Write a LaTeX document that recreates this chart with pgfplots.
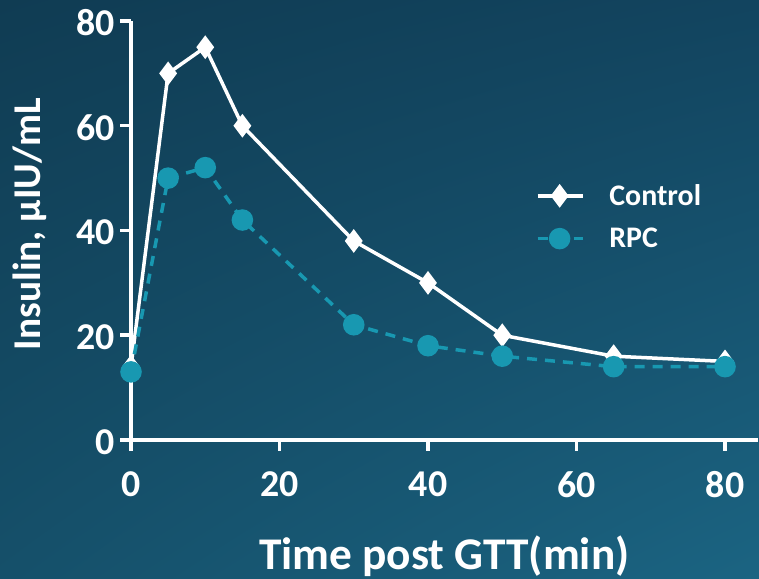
\documentclass[border=0pt]{standalone}
\usepackage{fontspec}
\setmainfont{Carlito}
\usepackage{pgfplots}
\pgfplotsset{compat=1.18}
\usetikzlibrary{shadings}
\definecolor{bgTL}{RGB}{16,60,83}
\definecolor{bgTR}{RGB}{18,68,95}
\definecolor{bgBL}{RGB}{21,80,106}
\definecolor{bgBR}{RGB}{27,100,130}
\definecolor{rpc}{RGB}{24,152,177}
\begin{document}
\begin{tikzpicture}[x=1bp,y=1bp]
\useasboundingbox (0,0) rectangle (759,579);
\shade[upper left=bgTL, upper right=bgTR, lower left=bgBL, lower right=bgBR] (0,0) rectangle (759,579);
\begin{axis}[
  at={(131bp,139bp)}, anchor=origin,
  scale only axis, width=626.7bp, height=419bp,
  xmin=0, xmax=84.4, ymin=0, ymax=80,
  axis x line*=bottom, axis y line*=left,
  axis line style={white, line width=3.5bp, -},
  xtick={0,20,40,60,80}, ytick={0,20,40,60,80},
  tick style={white, line width=3.5bp},
  xtick align=outside, ytick align=outside,
  major tick length=11bp,
  /pgf/number format/assume math mode=true,
  ticklabel style={font=\fontsize{38}{38}\selectfont\bfseries, text=white},
  xticklabel style={yshift=-17bp},
  yticklabel style={xshift=-2bp, yshift=-2bp},
  xlabel={Time post GTT(min)},
  ylabel={Insulin, μIU/mL},
  every axis x label/.style={at={(axis description cs:0.5,0)}, anchor=north, yshift=-92bp, font=\fontsize{45.5}{45.5}\selectfont\bfseries, text=white},
  every axis y label/.style={at={(axis description cs:0,0.515)}, xshift=-101bp, rotate=90, anchor=center, font=\fontsize{39.5}{39.5}\selectfont\bfseries, text=white},
  legend style={at={(axis cs:54.5,42.6)}, anchor=west, draw=none, fill=none, font=\fontsize{30}{30}\selectfont\bfseries, text=white, row sep=17bp, inner sep=0pt, nodes={inner sep=2bp}},
  legend cell align=left,
  legend image code/.code={\draw[mark repeat=2,mark phase=2] plot coordinates {(0bp,0bp)(22bp,0bp)(45bp,0bp)};},
  clip=false,
]
\addplot[white, line width=3.5bp, mark=diamond*, mark size=9bp, mark options={solid, fill=white}]
coordinates {(0,14)(5,70)(10,75)(15,60)(30,38)(40,30)(50,20)(65,16)(80,15)};
\addlegendentry{\hspace{23bp}Control}
\addplot[rpc, line width=3.5bp, dash pattern=on 10bp off 8bp, mark=*, mark size=9bp, mark options={solid, fill=rpc, draw=rpc}]
coordinates {(0,13)(5,50)(10,52)(15,42)(30,22)(40,18)(50,16)(65,14)(80,14)};
\addlegendentry{\hspace{23bp}RPC}
\end{axis}
\end{tikzpicture}
\end{document}
